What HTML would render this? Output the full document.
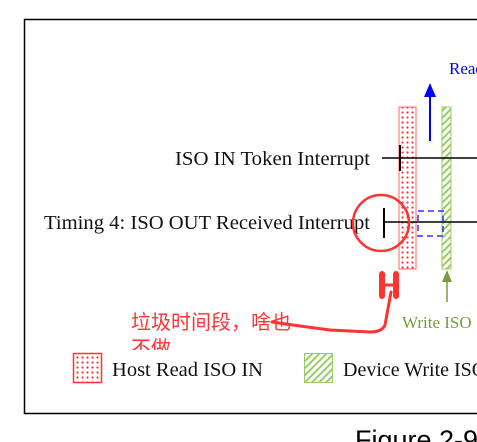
<!DOCTYPE html>
<html><head><meta charset="utf-8"><style>
html,body{margin:0;padding:0;background:#fff;width:477px;height:442px;overflow:hidden}
</style></head><body>
<svg width="477" height="442" xmlns="http://www.w3.org/2000/svg">
<defs>
<pattern id="dots" width="5" height="5" patternUnits="userSpaceOnUse">
<rect width="5" height="5" fill="#fff"/><circle cx="2.5" cy="2.5" r="1.1" fill="#f33"/></pattern>
<pattern id="hatch" width="5" height="5" patternUnits="userSpaceOnUse" patternTransform="rotate(45)">
<rect width="5" height="5" fill="#fff"/><rect width="2" height="5" fill="#9c6"/></pattern>
<clipPath id="cl"><rect x="0" y="0" width="477" height="350"/></clipPath>
</defs>
<rect x="24.5" y="19.5" width="470" height="394" fill="none" stroke="#000" stroke-width="1.5"/>
<g font-family="Liberation Serif, serif" font-size="20" fill="#111">
<text x="175" y="165" textLength="195" lengthAdjust="spacingAndGlyphs">ISO IN Token Interrupt</text>
<text x="44" y="229" textLength="326" lengthAdjust="spacingAndGlyphs">Timing 4: ISO OUT Received Interrupt</text>
<text x="112" y="376" textLength="151" lengthAdjust="spacingAndGlyphs">Host Read ISO IN</text>
<text x="343" y="376">Device Write ISO</text>
</g>
<text x="449" y="74" font-family="Liberation Serif, serif" font-size="17" fill="#00f">Read</text>
<text x="402" y="328" font-family="Liberation Serif, serif" font-size="17" fill="#7a9a40">Write ISO</text>
<rect x="399" y="107" width="17" height="162" fill="url(#dots)" stroke="#f66" stroke-width="1"/>
<rect x="442" y="107" width="9" height="162" fill="url(#hatch)" stroke="#9c6" stroke-width="1"/>
<line x1="382" y1="158" x2="477" y2="158" stroke="#000" stroke-width="1.5"/>
<line x1="400" y1="145" x2="400" y2="171" stroke="#000" stroke-width="2"/>
<line x1="383" y1="222" x2="477" y2="222" stroke="#000" stroke-width="1.5"/>
<line x1="384" y1="208" x2="384" y2="238" stroke="#000" stroke-width="2"/>
<rect x="418" y="211" width="25" height="25" fill="none" stroke="#33f" stroke-width="1.5" stroke-dasharray="6,4"/>
<line x1="430" y1="141" x2="430" y2="95" stroke="#00f" stroke-width="2"/>
<polygon points="430,83 424,97 436,97" fill="#00f"/>
<line x1="447" y1="302" x2="447" y2="282" stroke="#7a9a40" stroke-width="1.5"/>
<polygon points="447,270 442,282 452,282" fill="#7a9a40"/>
<circle cx="381" cy="223" r="28" fill="none" stroke="#f33" stroke-width="2.5"/>
<g stroke="#f33" stroke-linecap="round" fill="none">
<line x1="382" y1="274" x2="382" y2="296" stroke-width="6"/>
<line x1="396" y1="274" x2="396" y2="296" stroke-width="6"/>
<line x1="382" y1="285" x2="396" y2="285" stroke-width="3"/>
<path d="M391,292 L385,325 Q382,332 370,332 L330,330 L300,326 L272,322" stroke-width="3"/>
</g>
<g clip-path="url(#cl)" font-family="Noto Sans CJK SC, sans-serif" font-size="20" fill="#f33">
<text x="131" y="329">垃圾时间段，啥也</text>
<text x="131" y="355">不做</text>
</g>
<rect x="73.5" y="353.5" width="28" height="29" fill="url(#dots)" stroke="#f33" stroke-width="1.5"/>
<rect x="304.5" y="353.5" width="28" height="29" fill="url(#hatch)" stroke="#9c6" stroke-width="1"/>
<text x="355" y="449" font-family="Liberation Sans, sans-serif" font-size="27" fill="#000">Figure 2-9</text>
</svg>
</body></html>
